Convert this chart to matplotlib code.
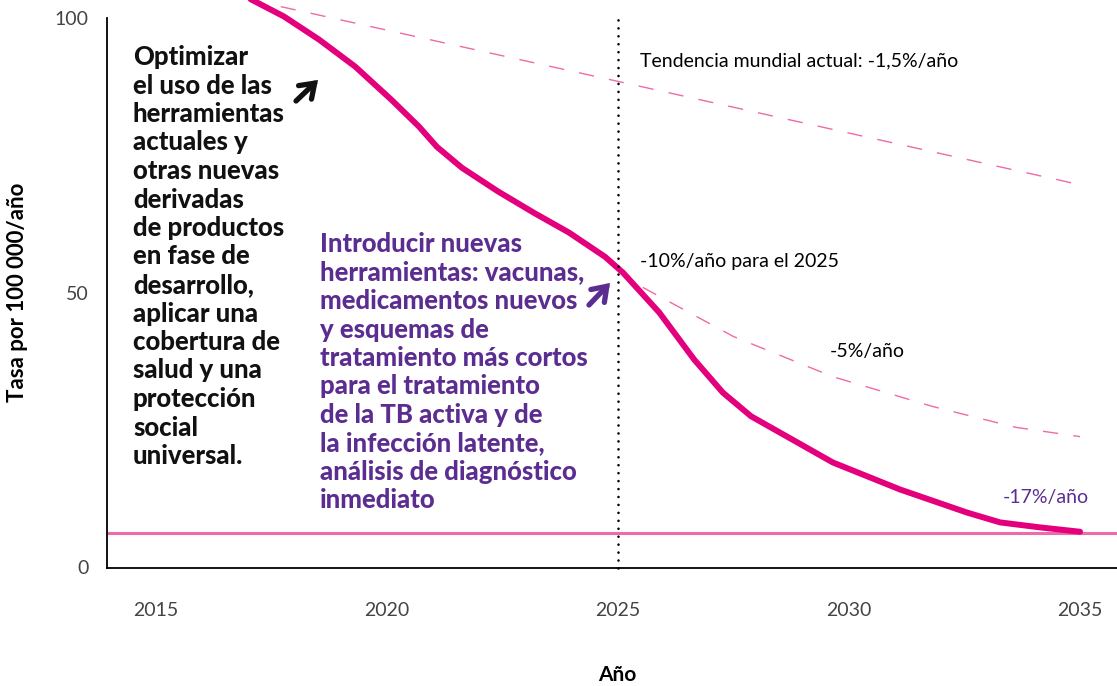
import matplotlib
matplotlib.use('Agg')
import matplotlib.pyplot as plt

plt.rcParams['font.family'] = ['Lato', 'DejaVu Sans']

# trayectoria objetivo (línea gruesa)
anios_meta = [2016.5, 2017.06, 2017.77, 2018.53, 2019.31, 2020.09, 2020.69, 2021.08, 2021.62,
              2022.40, 2023.18, 2023.94, 2024.72, 2025.11, 2025.89, 2026.65, 2027.27, 2027.88,
              2028.66, 2029.65, 2031.1, 2032.55, 2033.27, 2034.13, 2035.0]
tasa_meta = [106.5, 103.3, 100.2, 96.0, 91.1, 85.1, 80.2, 76.5, 72.7,
             68.4, 64.5, 60.9, 56.5, 53.6, 46.4, 37.8, 31.8, 27.5,
             23.8, 19.1, 14.2, 10.0, 8.2, 7.3, 6.5]

# tendencia mundial actual -1,5%/año
anios_tend = [2017.7, 2025.0, 2030.0, 2035.0]
tasa_tend = [102.0, 88.4, 79.0, 69.6]

# -5%/año después del 2025
anios_5 = [2025.0, 2025.5, 2027.5, 2029.65, 2031.8, 2033.6, 2035.0]
tasa_5 = [54.2, 51.1, 42.0, 34.7, 29.3, 25.5, 23.8]

meta_2035 = 6.3
anio_hito = 2025

xticks = [2015, 2020, 2025, 2030, 2035]
yticks = [0, 50, 100]

W, H = 1117, 686
fig = plt.figure(figsize=(W / 100, H / 100), dpi=100)
ax = fig.add_axes([107 / W, 1 - 567.5 / H, 1 - 107 / W, 567.5 / H])

magenta = '#e4007c'
rosa = '#ef6aa8'
morado = '#5c2d91'

ax.axhline(meta_2035, color=rosa, lw=2.2, zorder=2)
ax.plot(anios_tend, tasa_tend, color=rosa, lw=1.0, dashes=(11, 11), zorder=2)
ax.plot(anios_5, tasa_5, color=rosa, lw=1.0, dashes=(11, 11), zorder=2)
ax.plot(anios_meta, tasa_meta, color=magenta, lw=4.3, solid_capstyle='round',
        solid_joinstyle='round', zorder=3)
ax.plot([anio_hito, anio_hito], [0, 100.5], color='black', lw=1.9,
        linestyle=(0, (0.01, 3.0)), dash_capstyle='round', zorder=4, clip_on=False)

ax.set_xlim(2013.94, 2035.8)
ax.set_ylim(0, 103.2)
ax.set_xticks(xticks)
ax.set_yticks(yticks)
ax.tick_params(length=0, labelsize=14, labelcolor='#444444')
ax.tick_params(axis='x', pad=25)
ax.tick_params(axis='y', pad=13)

for s in ['top', 'right']:
    ax.spines[s].set_visible(False)
ax.spines['left'].set_bounds(0, 100)
ax.spines['left'].set_linewidth(1.3)
ax.spines['bottom'].set_linewidth(1.3)


def px(x, y):
    return x / W, 1 - y / H


fig.text(*px(18, 292), 'Tasa por 100 000/año', rotation=90, ha='center', va='center',
         fontsize=16, fontweight='bold')
fig.text(*px(617, 675), 'Año', ha='center', va='center', fontsize=15, fontweight='bold')

texto_negro = ('Optimizar\nel uso de las\nherramientas\nactuales y\notras nuevas\nderivadas\n'
               'de productos\nen fase de\ndesarrollo,\naplicar una\ncobertura de\nsalud y una\n'
               'protección\nsocial\nuniversal.')
texto_morado = ('Introducir nuevas\nherramientas: vacunas,\nmedicamentos nuevos\ny esquemas de\n'
                'tratamiento más cortos\npara el tratamiento\nde la TB activa y de\n'
                'la infección latente,\nanálisis de diagnóstico\ninmediato')

fig.text(*px(133, 45), texto_negro, ha='left', va='top', fontsize=18.5, fontweight='black',
         color='#111111', linespacing=1.225)
fig.text(*px(320, 232), texto_morado, ha='left', va='top', fontsize=18.5, fontweight='black',
         color=morado, linespacing=1.225)

fig.text(*px(640, 61), 'Tendencia mundial actual: -1,5%/año', ha='left', va='center', fontsize=14)
fig.text(*px(640, 262), '-10%/año para el 2025', ha='left', va='center', fontsize=14)
fig.text(*px(830, 352), '-5%/año', ha='left', va='center', fontsize=14)
fig.text(*px(1003, 497), '-17%/año', ha='left', va='center', fontsize=14, color=morado)

flecha = dict(arrowstyle='->,head_length=0.6,head_width=0.42', lw=3.8, shrinkA=0, shrinkB=0,
              mutation_scale=16, joinstyle='miter')
ax.annotate('', xy=px(318, 80), xytext=px(296, 101), xycoords='figure fraction',
            textcoords='figure fraction', arrowprops=dict(flecha, color='#111111'))
ax.annotate('', xy=px(610, 283), xytext=px(589, 305), xycoords='figure fraction',
            textcoords='figure fraction', arrowprops=dict(flecha, color=morado))

fig.savefig('out.png', dpi=100)
